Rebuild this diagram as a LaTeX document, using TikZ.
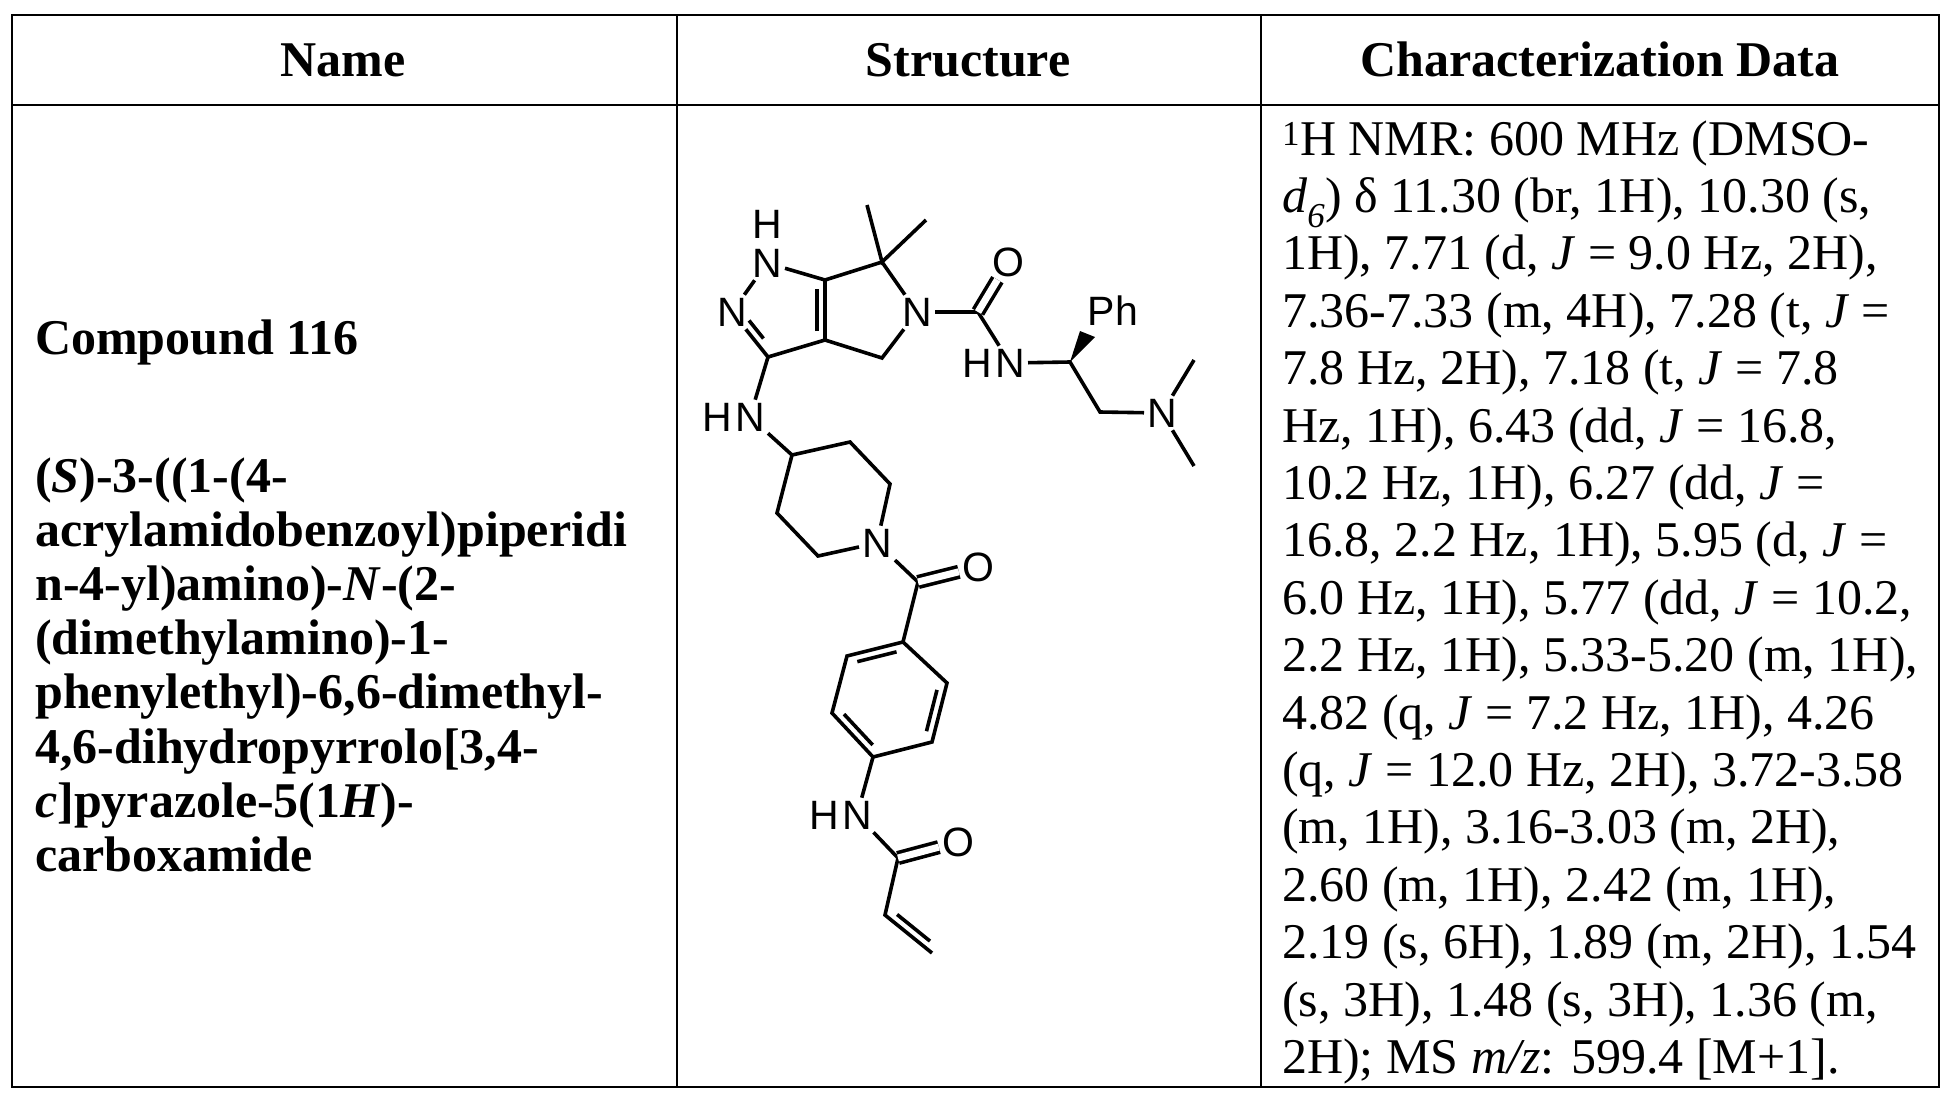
\documentclass[tikz,border=0pt]{standalone}
\usepackage{fontspec}
\setmainfont{Liberation Serif}
\newfontfamily\chemfont{Liberation Sans}
\usetikzlibrary{calc}
\tikzset{
  grid/.style={line width=2.5pt},
  bond/.style={line width=3.6pt},
  dbond/.style={line width=3.6pt,double,double distance=7pt},
  atom/.style={inner sep=3pt,font=\chemfont\fontsize{41}{41}\selectfont},
  hatom/.style={inner sep=0pt,anchor=east,font=\chemfont\fontsize{41}{41}\selectfont},
  txt/.style={anchor=base west,inner sep=0pt,font=\fontsize{50}{50}\selectfont},
  hdr/.style={anchor=base,inner sep=0pt,font=\bfseries\fontsize{50}{50}\selectfont},
}
\newcommand\innerbond[3]{\draw[bond] ($(#1)!#3!(#2)!8pt!90:(#2)$) -- ($(#2)!#3!(#1)!8pt!-90:(#1)$);}
\begin{document}
\begin{tikzpicture}[x=1pt,y=-1pt]
\useasboundingbox (0,0) rectangle (1949,1098);
% table
\draw[grid] (12,15) rectangle (1939,1087);
\draw[grid] (12,105) -- (1939,105);
\draw[grid] (677,15) -- (677,1087);
\draw[grid] (1261,15) -- (1261,1087);
\node[hdr] (h1) at (343,76) {Name};
\node[hdr] (h2) at (968,76) {Structure};
\node[hdr] (h3) at (1600,76) {Characterization Data};
% name column
\node[txt,font=\bfseries\fontsize{50}{50}\selectfont] (n0) at (35,354) {Compound 116};
\foreach \t [count=\i from 0] in {
 {(\textit{S})-3-((1-(4-},
 {acrylamidobenzoyl)piperidi},
 {n-4-yl)amino)-\textit{N}-(2-},
 {(dimethylamino)-1-},
 {phenylethyl)-6,6-dimethyl-},
 {4,6-dihydropyrrolo[3,4-},
 {\textit{c}]pyrazole-5(1\textit{H})-},
 {carboxamide}}
 \node[txt,font=\bfseries\fontsize{50}{50}\selectfont] (nm\i) at (35,492+54.2*\i) {\t};
% data column
\foreach \t [count=\i from 0] in {
 {\textsuperscript{1}H NMR: 600 MHz (DMSO-},
 {\textit{d}\textsubscript{\textit{6}}) δ 11.30 (br, 1H), 10.30 (s,},
 {1H), 7.71 (d, \textit{J} = 9.0 Hz, 2H),},
 {7.36-7.33 (m, 4H), 7.28 (t, \textit{J} =},
 {7.8 Hz, 2H), 7.18 (t, \textit{J} = 7.8},
 {Hz, 1H), 6.43 (dd, \textit{J} = 16.8,},
 {10.2 Hz, 1H), 6.27 (dd, \textit{J} =},
 {16.8, 2.2 Hz, 1H), 5.95 (d, \textit{J} =},
 {6.0 Hz, 1H), 5.77 (dd, \textit{J} = 10.2,},
 {2.2 Hz, 1H), 5.33-5.20 (m, 1H),},
 {4.82 (q, \textit{J} = 7.2 Hz, 1H), 4.26},
 {(q, \textit{J} = 12.0 Hz, 2H), 3.72-3.58},
 {(m, 1H), 3.16-3.03 (m, 2H),},
 {2.60 (m, 1H), 2.42 (m, 1H),},
 {2.19 (s, 6H), 1.89 (m, 2H), 1.54},
 {(s, 3H), 1.48 (s, 3H), 1.36 (m,},
 {2H); MS \textit{m/z}: 599.4 [M+1].}}
 \node[txt] (d\i) at (1282,155+57.4*\i) {\t};
% ---- structure: atoms
\node[atom] (N1) at (767,263) {N};
\node[atom] (H1) at (767,224) {H};
\node[atom] (N2) at (732,312) {N};
\coordinate (C3) at (768,357);
\coordinate (C3a) at (825,340);
\coordinate (C6a) at (825,280);
\coordinate (C6) at (882,262);
\coordinate (Me1) at (867,205);
\coordinate (Me2) at (926,220);
\node[atom] (N5) at (917,312) {N};
\coordinate (C4) at (882,358);
\coordinate (Cu) at (978,312);
\node[atom] (Ou) at (1008,262) {O};
\node[atom] (Na) at (1010,363) {N};
\node[hatom] (Ha) at (Na.west) {H};
\coordinate (Cch) at (1070,362);
\node[atom] (Ph) at (1113,311) {Ph};
\coordinate (CH2) at (1100,412);
\node[atom] (Nd) at (1162,413) {N};
\coordinate (Me3) at (1194,360);
\coordinate (Me4) at (1194,466);
\node[atom] (Nb) at (750,417) {N};
\node[hatom] (Hb) at (Nb.west) {H};
\coordinate (P4) at (792,455);
\coordinate (Pa) at (850,442);
\coordinate (Pb) at (890,484);
\node[atom] (Np) at (877,543) {N};
\coordinate (Pc) at (818,556);
\coordinate (Pd) at (777,513);
\coordinate (Cb) at (918,582);
\node[atom] (Ob) at (978,567) {O};
\coordinate (B1) at (903,642);
\coordinate (B2) at (847,656);
\coordinate (B3) at (832,713);
\coordinate (B4) at (873,757);
\coordinate (B5) at (932,742);
\coordinate (B6) at (947,683);
\node[atom] (Nc) at (857,815) {N};
\node[hatom] (Hc) at (Nc.west) {H};
\coordinate (Ca) at (898,858);
\node[atom] (Oa) at (958,842) {O};
\coordinate (V1) at (885,915);
\coordinate (V2) at (932,953);
% bonds
\draw[bond] (N1) -- (N2);
\draw[bond] (N1) -- (C6a) -- (C6) -- (N5);
\draw[bond] (N2) -- (C3) -- (C3a) -- (C6a);
\draw[bond] (C3a) -- (C4) -- (N5);
\draw[bond] (Me1) -- (C6) -- (Me2);
\draw[bond] (N5) -- (Cu) -- (Na);
\draw[dbond] (Cu) -- (Ou);
\draw[bond] (Na) -- (Cch) -- (CH2) -- (Nd);
\draw[bond] (Me3) -- (Nd) -- (Me4);
\fill (Cch) -- (1080,331) -- (1095,337) -- cycle;
\draw[bond] (C3) -- (Nb) -- (P4) -- (Pa) -- (Pb) -- (Np) -- (Pc) -- (Pd) -- (P4);
\draw[bond] (Np) -- (Cb) -- (B1);
\draw[dbond] (Cb) -- (Ob);
\draw[bond] (B1) -- (B2) -- (B3) -- (B4) -- (B5) -- (B6) -- cycle;
\draw[bond] (B4) -- (Nc) -- (Ca) -- (V1) -- (V2);
\draw[dbond] (Ca) -- (Oa);
\innerbond{N2}{C3}{0.3}
\innerbond{C3a}{C6a}{0.15}
\innerbond{B1}{B2}{0.15}
\innerbond{B3}{B4}{0.15}
\innerbond{B5}{B6}{0.15}
\innerbond{V1}{V2}{0.15}
\end{tikzpicture}
\end{document}
